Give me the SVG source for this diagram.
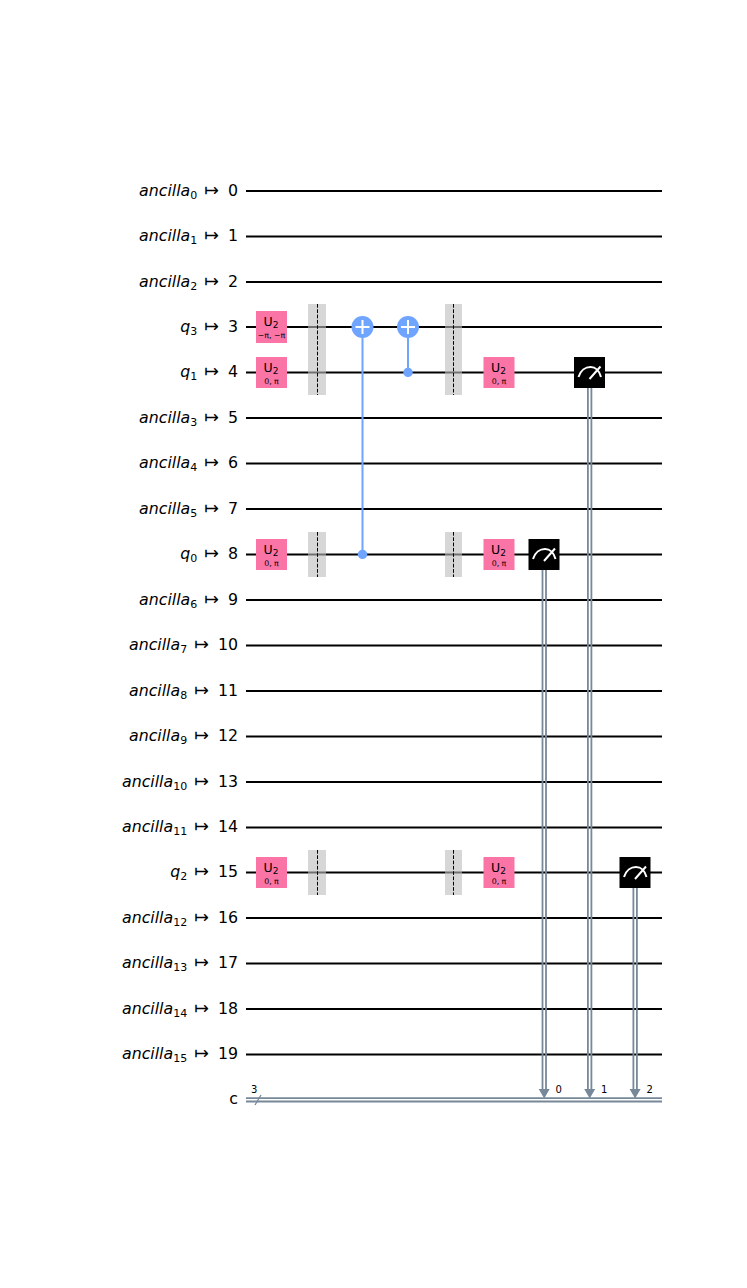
<svg xmlns="http://www.w3.org/2000/svg" width="747" height="1288" viewBox="0 0 747 1288">
<style>
text{font-family:"DejaVu Sans",sans-serif;fill:#000}
.lbl{font-size:15.800px;text-anchor:end}
.it{font-style:italic}
.sub{font-size:11px}
.ar{font-size:17.500px}
.wire{stroke:#000;stroke-width:2;fill:none}
.cw{stroke:#778899;stroke-width:1.800;fill:none}
.cx{stroke:#6fa4ff;stroke-width:2;fill:none}
.u{fill:#fa74a6}
.ut{font-size:12.500px;text-anchor:middle;fill:#000}
.up{font-size:7.800px;text-anchor:middle;fill:#000}
.bar{fill:#bdbdbd;fill-opacity:.6}
.dash{stroke:#000;stroke-width:1;stroke-dasharray:3.700 1.600;fill:none}
.m{fill:#000}
.ms{stroke:#fff;stroke-width:2;fill:none}
.small{font-size:10px}
</style>
<defs>
<g id="meas">
<rect class="m" x="-15.500" y="-15.500" width="31" height="31"/>
<path class="ms" d="M-11 4.500C-9 -2 -4 -5.500 1 -5.500C6 -5.500 10 -1.500 11.500 4.500M0 6.500L11 -6"/>
</g>
<g id="plus"><circle cx="0" cy="0" r="11" fill="#6fa4ff"/><path d="M-7 0H7M0 -7V7" stroke="#fff" stroke-width="2" fill="none"/></g>
</defs>
<g id="connectors">
<path class="wire" d="M246 191H662M246 236.400H662M246 282H662M246 327H662M246 372.400H662M246 418H662M246 463.400H662M246 509H662M246 554.400H662M246 600H662M246 645.400H662M246 691H662M246 736.400H662M246 782H662M246 827.400H662M246 872.400H662M246 918H662M246 963.400H662M246 1009H662M246 1054.400H662"/>
<path class="cw" d="M246 1098.100H662M246 1101.500H662"/>
<path d="M255 1105L261 1095" stroke="#778899" stroke-width="1.300" fill="none"/>
<path class="cx" d="M362.500 327V554M408 327V372"/>
<circle cx="362.500" cy="554.400" r="4.700" fill="#6fa4ff"/>
<circle cx="408" cy="372.400" r="4.700" fill="#6fa4ff"/>
<path class="cw" d="M542.500 554V1090M546 554V1090M587.900 372V1090M591.400 372V1090M633.400 872V1090M636.900 872V1090"/>
<path d="M538.700 1089H549.700L544.200 1098.500ZM584.200 1089H595.200L589.700 1098.500ZM629.600 1089H640.600L635.100 1098.500Z" fill="#778899"/>
</g>
<g id="labels">
<text class="lbl" x="238" y="196"><tspan class="it">ancilla</tspan><tspan class="sub" dy="3">0</tspan><tspan class="ar" dy="-3" dx="7">↦</tspan><tspan dx="4"> 0</tspan></text>
<text class="lbl" x="238" y="241"><tspan class="it">ancilla</tspan><tspan class="sub" dy="3">1</tspan><tspan class="ar" dy="-3" dx="7">↦</tspan><tspan dx="4"> 1</tspan></text>
<text class="lbl" x="238" y="287"><tspan class="it">ancilla</tspan><tspan class="sub" dy="3">2</tspan><tspan class="ar" dy="-3" dx="7">↦</tspan><tspan dx="4"> 2</tspan></text>
<text class="lbl" x="238" y="332"><tspan class="it">q</tspan><tspan class="sub" dy="3">3</tspan><tspan class="ar" dy="-3" dx="7">↦</tspan><tspan dx="4"> 3</tspan></text>
<text class="lbl" x="238" y="377"><tspan class="it">q</tspan><tspan class="sub" dy="3">1</tspan><tspan class="ar" dy="-3" dx="7">↦</tspan><tspan dx="4"> 4</tspan></text>
<text class="lbl" x="238" y="423"><tspan class="it">ancilla</tspan><tspan class="sub" dy="3">3</tspan><tspan class="ar" dy="-3" dx="7">↦</tspan><tspan dx="4"> 5</tspan></text>
<text class="lbl" x="238" y="468"><tspan class="it">ancilla</tspan><tspan class="sub" dy="3">4</tspan><tspan class="ar" dy="-3" dx="7">↦</tspan><tspan dx="4"> 6</tspan></text>
<text class="lbl" x="238" y="514"><tspan class="it">ancilla</tspan><tspan class="sub" dy="3">5</tspan><tspan class="ar" dy="-3" dx="7">↦</tspan><tspan dx="4"> 7</tspan></text>
<text class="lbl" x="238" y="559"><tspan class="it">q</tspan><tspan class="sub" dy="3">0</tspan><tspan class="ar" dy="-3" dx="7">↦</tspan><tspan dx="4"> 8</tspan></text>
<text class="lbl" x="238" y="605"><tspan class="it">ancilla</tspan><tspan class="sub" dy="3">6</tspan><tspan class="ar" dy="-3" dx="7">↦</tspan><tspan dx="4"> 9</tspan></text>
<text class="lbl" x="238" y="650"><tspan class="it">ancilla</tspan><tspan class="sub" dy="3">7</tspan><tspan class="ar" dy="-3" dx="7">↦</tspan><tspan dx="4"> 10</tspan></text>
<text class="lbl" x="238" y="696"><tspan class="it">ancilla</tspan><tspan class="sub" dy="3">8</tspan><tspan class="ar" dy="-3" dx="7">↦</tspan><tspan dx="4"> 11</tspan></text>
<text class="lbl" x="238" y="741"><tspan class="it">ancilla</tspan><tspan class="sub" dy="3">9</tspan><tspan class="ar" dy="-3" dx="7">↦</tspan><tspan dx="4"> 12</tspan></text>
<text class="lbl" x="238" y="787"><tspan class="it">ancilla</tspan><tspan class="sub" dy="3">10</tspan><tspan class="ar" dy="-3" dx="7">↦</tspan><tspan dx="4"> 13</tspan></text>
<text class="lbl" x="238" y="832"><tspan class="it">ancilla</tspan><tspan class="sub" dy="3">11</tspan><tspan class="ar" dy="-3" dx="7">↦</tspan><tspan dx="4"> 14</tspan></text>
<text class="lbl" x="238" y="877"><tspan class="it">q</tspan><tspan class="sub" dy="3">2</tspan><tspan class="ar" dy="-3" dx="7">↦</tspan><tspan dx="4"> 15</tspan></text>
<text class="lbl" x="238" y="923"><tspan class="it">ancilla</tspan><tspan class="sub" dy="3">12</tspan><tspan class="ar" dy="-3" dx="7">↦</tspan><tspan dx="4"> 16</tspan></text>
<text class="lbl" x="238" y="968"><tspan class="it">ancilla</tspan><tspan class="sub" dy="3">13</tspan><tspan class="ar" dy="-3" dx="7">↦</tspan><tspan dx="4"> 17</tspan></text>
<text class="lbl" x="238" y="1014"><tspan class="it">ancilla</tspan><tspan class="sub" dy="3">14</tspan><tspan class="ar" dy="-3" dx="7">↦</tspan><tspan dx="4"> 18</tspan></text>
<text class="lbl" x="238" y="1059"><tspan class="it">ancilla</tspan><tspan class="sub" dy="3">15</tspan><tspan class="ar" dy="-3" dx="7">↦</tspan><tspan dx="4"> 19</tspan></text>
<text class="lbl" x="238" y="1104">c</text>
<text class="small" x="251" y="1093">3</text>
<text class="small" x="555.500" y="1093">0</text>
<text class="small" x="601" y="1093">1</text>
<text class="small" x="646.500" y="1093">2</text>
</g>
<g id="u2-q3"><rect class="u" x="256" y="311" width="31" height="32"/><text class="ut" x="271" y="325.500">U<tspan font-size="9" dy="2">2</tspan></text><text class="up" x="271.500" y="338">−π, −π</text></g>
<g id="u2-q1"><rect class="u" x="256" y="357" width="31" height="31"/><text class="ut" x="271" y="371.500">U<tspan font-size="9" dy="2">2</tspan></text><text class="up" x="271.500" y="384">0, π</text></g>
<g id="u2-q0"><rect class="u" x="256" y="539" width="31" height="31"/><text class="ut" x="271" y="553.500">U<tspan font-size="9" dy="2">2</tspan></text><text class="up" x="271.500" y="566">0, π</text></g>
<g id="u2-q2"><rect class="u" x="256" y="857" width="31" height="31"/><text class="ut" x="271" y="871.500">U<tspan font-size="9" dy="2">2</tspan></text><text class="up" x="271.500" y="884">0, π</text></g>
<g id="barrier-1a"><rect class="bar" x="308" y="304" width="18" height="91"/><path class="dash" d="M317.500 304V395"/></g>
<g id="barrier-1b"><rect class="bar" x="308" y="532" width="18" height="45"/><path class="dash" d="M317.500 532V577"/></g>
<g id="barrier-1c"><rect class="bar" x="308" y="850" width="18" height="45"/><path class="dash" d="M317.500 850V895"/></g>
<g id="cx-1"><use href="#plus" x="362.500" y="327"/></g>
<g id="cx-2"><use href="#plus" x="408" y="327"/></g>
<g id="barrier-2a"><rect class="bar" x="445" y="304" width="17" height="91"/><path class="dash" d="M453.500 304V395"/></g>
<g id="barrier-2b"><rect class="bar" x="445" y="532" width="17" height="45"/><path class="dash" d="M453.500 532V577"/></g>
<g id="barrier-2c"><rect class="bar" x="445" y="850" width="17" height="45"/><path class="dash" d="M453.500 850V895"/></g>
<g id="u2-q1b"><rect class="u" x="483.500" y="357" width="31" height="31"/><text class="ut" x="498.500" y="371.500">U<tspan font-size="9" dy="2">2</tspan></text><text class="up" x="499" y="384">0, π</text></g>
<g id="u2-q0b"><rect class="u" x="483.500" y="539" width="31" height="31"/><text class="ut" x="498.500" y="553.500">U<tspan font-size="9" dy="2">2</tspan></text><text class="up" x="499" y="566">0, π</text></g>
<g id="u2-q2b"><rect class="u" x="483.500" y="857" width="31" height="31"/><text class="ut" x="498.500" y="871.500">U<tspan font-size="9" dy="2">2</tspan></text><text class="up" x="499" y="884">0, π</text></g>
<g id="measure-q0"><use href="#meas" x="544" y="554.500"/></g>
<g id="measure-q1"><use href="#meas" x="589.500" y="372.500"/></g>
<g id="measure-q2"><use href="#meas" x="635" y="872.500"/></g>
</svg>
